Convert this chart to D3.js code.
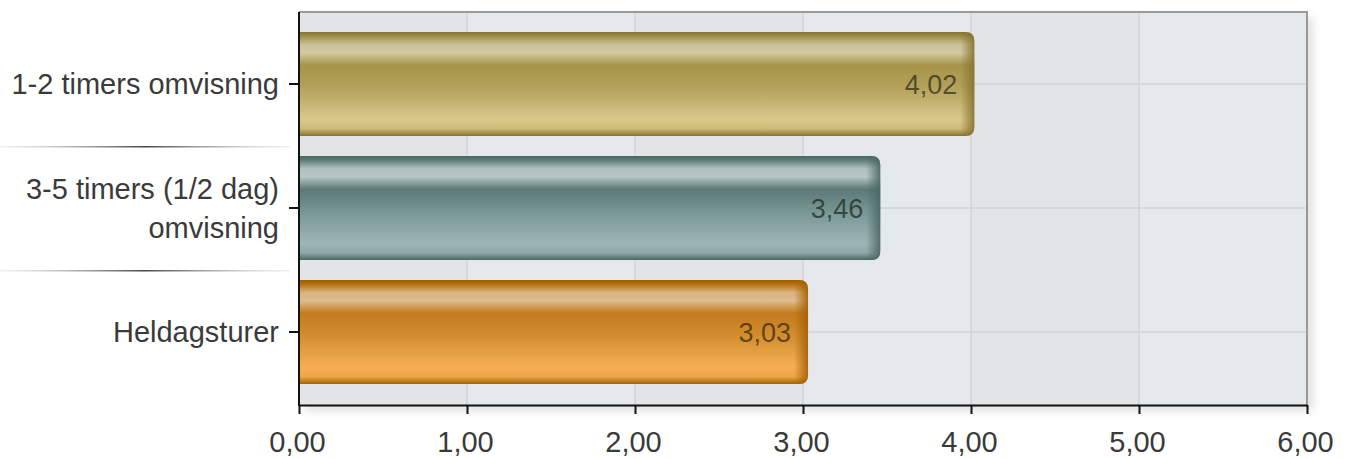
<!DOCTYPE html>
<html><head><meta charset="utf-8">
<script src="https://cdn.jsdelivr.net/npm/d3@7"></script>
<style>
html,body{margin:0;padding:0;background:#fff;}
svg{display:block;font-family:"Liberation Sans",Arial,sans-serif;}
</style></head>
<body>
<svg id="c" width="1350" height="459"></svg>
<script>
const categories = ["1-2 timers omvisning", "3-5 timers (1/2 dag) omvisning", "Heldagsturer"];
const labelLines = [["1-2 timers omvisning"], ["3-5 timers (1/2 dag)", "omvisning"], ["Heldagsturer"]];
const values = [4.02, 3.46, 3.03];
const valueLabels = ["4,02", "3,46", "3,03"];
const xTicks = [0, 1, 2, 3, 4, 5, 6];
const xTickLabels = ["0,00", "1,00", "2,00", "3,00", "4,00", "5,00", "6,00"];
const palettes = [
  ["#857430","#9d8d48","#cbc198","#d3caa4","#a69448","#b5a35e","#d9c98a","#cbb976","#86742c"],
  ["#486562","#5e7b78","#aebfbd","#b7c7c5","#5b7a77","#7a9896","#9bb7b5","#8eaaa8","#4a6764"],
  ["#9e5a00","#b46f10","#d9b27e","#dfbd8e","#c27b1c","#d38f30","#f6b052","#eba546","#a56000"]
];

const svg = d3.select("#c");
const plotTop = 12, plotBottom = 405, plotLeft = 299, plotRight = 1307;
const x = d3.scaleLinear().domain([0, 6]).range([plotLeft, plotRight]);
const y = d3.scaleBand().domain(categories).range([22, 394]).paddingInner(0.16).paddingOuter(0.08);
const fsVal = 27, fsTick = 29, fsCat = 29;

const defs = svg.append("defs");
const sh = defs.append("filter").attr("id","sh").attr("x","-5%").attr("y","-10%").attr("width","115%").attr("height","130%");
sh.append("feDropShadow").attr("dx",6).attr("dy",6).attr("stdDeviation",5).attr("flood-color","#000").attr("flood-opacity",0.12);

const stopsPos = [0,0.04,0.12,0.2,0.32,0.55,0.84,0.93,1];
palettes.forEach((p,i)=>{
  const g = defs.append("linearGradient").attr("id","g"+i).attr("x1",0).attr("y1",0).attr("x2",0).attr("y2",1);
  p.forEach((c,j)=>g.append("stop").attr("offset",stopsPos[j]).attr("stop-color",c));
  const h = defs.append("linearGradient").attr("id","h"+i).attr("x1",0).attr("y1",0).attr("x2",1).attr("y2",0);
  h.append("stop").attr("offset",0).attr("stop-color",p[8]).attr("stop-opacity",0);
  h.append("stop").attr("offset",1).attr("stop-color",p[8]).attr("stop-opacity",0.9);
});
const sep = defs.append("linearGradient").attr("id","sep").attr("gradientUnits","userSpaceOnUse")
  .attr("x1",0).attr("x2",290).attr("y1",0).attr("y2",0);
sep.append("stop").attr("offset",0).attr("stop-color","#aaa").attr("stop-opacity",0.15);
sep.append("stop").attr("offset",0.5).attr("stop-color","#333").attr("stop-opacity",0.9);
sep.append("stop").attr("offset",1).attr("stop-color","#aaa").attr("stop-opacity",0.15);

// plot background with shadow
svg.append("rect").attr("x",plotLeft).attr("y",plotTop).attr("width",plotRight-plotLeft).attr("height",plotBottom-plotTop)
  .attr("fill","#e6e9ec").attr("filter","url(#sh)");
// alternating columns
svg.append("g").selectAll("rect").data(xTicks.slice(0,-1).filter(d=>d%2===0)).join("rect")
  .attr("x",d=>x(d)).attr("y",plotTop).attr("width",d=>x(d+1)-x(d)).attr("height",plotBottom-plotTop)
  .attr("fill","#e3e4e6");
// gridlines
svg.append("g").selectAll("line").data(xTicks.slice(1,-1)).join("line")
  .attr("x1",d=>x(d)).attr("x2",d=>x(d)).attr("y1",plotTop).attr("y2",plotBottom)
  .attr("stroke","#d2d3d5").attr("stroke-width",1.5);
svg.append("g").selectAll("line").data(categories).join("line")
  .attr("x1",plotLeft).attr("x2",plotRight).attr("y1",d=>y(d)+y.bandwidth()/2).attr("y2",d=>y(d)+y.bandwidth()/2)
  .attr("stroke","#d2d3d5").attr("stroke-width",1.5);
// top/right border
svg.append("path").attr("d",`M${plotLeft},${plotTop}H${plotRight}V${plotBottom}`).attr("fill","none")
  .attr("stroke","#9a9a9a").attr("stroke-width",2);

// bars
const bh = y.bandwidth(), r = 9;
const bars = svg.append("g").selectAll("g").data(categories).join("g");
bars.append("path").attr("d",(d,i)=>{
  const x0=x(0), x1=x(values[i]), y0=y(d), y1=y0+bh;
  return `M${x0},${y0}H${x1-r}Q${x1},${y0} ${x1},${y0+r}V${y1-r}Q${x1},${y1} ${x1-r},${y1}H${x0}Z`;
}).attr("fill",(d,i)=>`url(#g${i})`);
bars.append("path").attr("d",(d,i)=>{
  const x1=x(values[i]), xa=x1-14, y0=y(d), y1=y0+bh;
  return `M${xa},${y0}H${x1-r}Q${x1},${y0} ${x1},${y0+r}V${y1-r}Q${x1},${y1} ${x1-r},${y1}H${xa}Z`;
}).attr("fill",(d,i)=>`url(#h${i})`);
bars.append("text").attr("x",(d,i)=>x(values[i])-17).attr("y",d=>y(d)+bh/2).attr("dy","0.36em")
  .attr("text-anchor","end").attr("font-size",fsVal).attr("fill","#000").attr("fill-opacity",0.55)
  .text((d,i)=>valueLabels[i]);

// axes
const xAxis = d3.axisBottom(x).tickValues(xTicks).tickFormat((d,i)=>xTickLabels[i]).tickSize(9).tickSizeOuter(0);
const gx = svg.append("g").attr("transform",`translate(0,${plotBottom})`).call(xAxis);
gx.select(".domain").attr("stroke","#111").attr("stroke-width",2);
gx.selectAll(".tick line").attr("stroke","#111").attr("stroke-width",2);
gx.selectAll("text").attr("font-size",fsTick).attr("fill","#3a3a3a").attr("y",26).attr("dx",-2).attr("dy","0.71em")
  .attr("font-family","Liberation Sans, Arial, sans-serif");

const yAxis = d3.axisLeft(y).tickSize(10).tickSizeOuter(0).tickFormat("");
const gy = svg.append("g").attr("transform",`translate(${plotLeft},0)`).call(yAxis);
gy.select(".domain").remove();
gy.selectAll(".tick line").attr("stroke","#111").attr("stroke-width",2);
svg.append("line").attr("x1",plotLeft).attr("x2",plotLeft).attr("y1",plotTop).attr("y2",plotBottom+1)
  .attr("stroke","#111").attr("stroke-width",2);

// category labels
const lh = 39;
const lab = svg.append("g").selectAll("text").data(categories).join("text")
  .attr("text-anchor","end").attr("font-size",fsCat).attr("fill","#3a3a3a");
lab.each(function(d,i){
  const lines = labelLines[i];
  const cy = y(d)+bh/2;
  d3.select(this).selectAll("tspan").data(lines).join("tspan")
    .attr("x",279).attr("y",(t,j)=>cy+(j-(lines.length-1)/2)*lh).attr("dy","0.36em").text(t=>t);
});
// separators between category labels
const mids = categories.slice(0,-1).map((d,i)=>(y(d)+bh/2 + y(categories[i+1])+bh/2)/2);
svg.append("g").selectAll("rect").data(mids).join("rect")
  .attr("x",0).attr("width",290).attr("y",d=>d).attr("height",1.5)
  .attr("fill","url(#sep)");
</script>
</body></html>
